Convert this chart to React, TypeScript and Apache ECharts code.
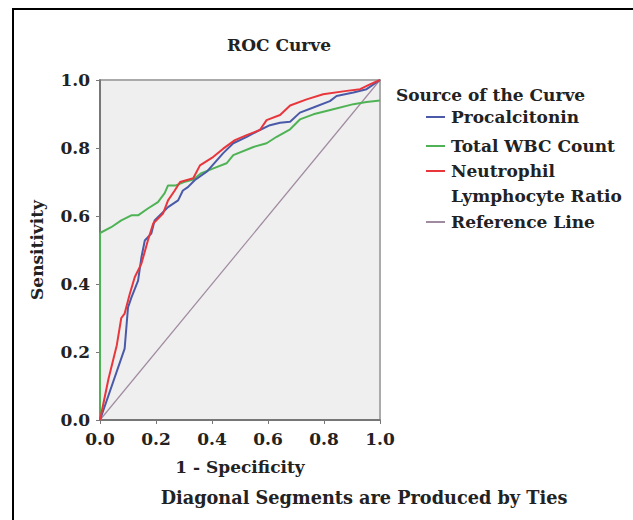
import React, { useEffect, useRef } from "react";
import * as echarts from "echarts";

const FONT = "DejaVu Serif";

const titleText = "ROC Curve";
const xAxisName = "1 - Specificity";
const yAxisName = "Sensitivity";
const footnote = "Diagonal Segments are Produced by Ties";
const legendTitle = "Source of the Curve";

const seriesNames = ["Procalcitonin", "Total WBC Count", "Neutrophil Lymphocyte Ratio", "Reference Line"];
const legendLabels = [["Procalcitonin"], ["Total WBC Count"], ["Neutrophil", "Lymphocyte Ratio"], ["Reference Line"]];
const seriesColors = ["#4a5aa8", "#4fb356", "#e8363c", "#a08aa0"];

const pctX = [0, 0.088, 0.1, 0.112, 0.136, 0.148, 0.16, 0.183, 0.195, 0.243, 0.279, 0.296, 0.314, 0.338, 0.381, 0.44, 0.476, 0.524, 0.571, 0.607, 0.643, 0.679, 0.714, 0.762, 0.821, 0.845, 0.905, 0.952, 1.0];
const pctY = [0, 0.21, 0.331, 0.36, 0.41, 0.479, 0.528, 0.548, 0.587, 0.626, 0.646, 0.675, 0.685, 0.705, 0.73, 0.785, 0.814, 0.833, 0.853, 0.867, 0.874, 0.877, 0.904, 0.919, 0.938, 0.953, 0.963, 0.973, 1.0];

const wbcX = [0, 0, 0.04, 0.076, 0.112, 0.136, 0.171, 0.207, 0.231, 0.243, 0.271, 0.3, 0.333, 0.36, 0.405, 0.452, 0.476, 0.548, 0.595, 0.631, 0.679, 0.714, 0.762, 0.833, 0.905, 0.952, 1.0];
const wbcY = [0, 0.55, 0.567, 0.587, 0.602, 0.602, 0.622, 0.641, 0.667, 0.69, 0.69, 0.7, 0.707, 0.725, 0.74, 0.755, 0.779, 0.803, 0.814, 0.833, 0.855, 0.884, 0.899, 0.914, 0.929, 0.935, 0.94];

const nlrX = [0, 0.03, 0.06, 0.076, 0.088, 0.106, 0.124, 0.148, 0.171, 0.19, 0.225, 0.243, 0.267, 0.286, 0.333, 0.357, 0.405, 0.44, 0.482, 0.524, 0.571, 0.595, 0.643, 0.679, 0.738, 0.797, 0.881, 0.929, 0.964, 1.0];
const nlrY = [0, 0.12, 0.22, 0.3, 0.313, 0.37, 0.42, 0.46, 0.528, 0.578, 0.607, 0.646, 0.675, 0.7, 0.711, 0.749, 0.774, 0.798, 0.823, 0.838, 0.853, 0.882, 0.897, 0.925, 0.943, 0.958, 0.968, 0.973, 0.987, 1.0];

const refX = [0, 1];
const refY = [0, 1];

const zip = (xs: number[], ys: number[]) => xs.map((x, i) => [x, ys[i]]);

export default function App() {
  const ref = useRef<HTMLDivElement>(null);
  useEffect(() => {
    document.body.style.margin = "0";
    const chart = echarts.init(ref.current!, null, { renderer: "svg" });
    const textStyleBase = { fontFamily: FONT, fontWeight: "bold" as const, fill: "#222" };
    const legendY = [117, 146, 171, 222];
    const legendGraphics: any[] = [
      { type: "text", x: 396, y: 95, style: { ...textStyleBase, text: legendTitle, fontSize: 17, textVerticalAlign: "middle" } },
    ];
    legendLabels.forEach((lines, i) => {
      legendGraphics.push({
        type: "line",
        shape: { x1: 426, y1: legendY[i], x2: 445, y2: legendY[i] },
        style: { stroke: seriesColors[i], lineWidth: 2 },
      });
      legendGraphics.push({
        type: "text",
        x: 451,
        y: legendY[i] - 12.5,
        style: { ...textStyleBase, text: lines.join("\n"), fontSize: 17, lineHeight: 25, textVerticalAlign: "top" },
      });
    });

    const axisCommon = {
      type: "value" as const,
      min: 0,
      max: 1,
      interval: 0.2,
      nameLocation: "middle" as const,
      nameTextStyle: { fontFamily: FONT, fontWeight: "bold" as const, fontSize: 17, color: "#222" },
      axisLine: { show: true, lineStyle: { color: "#666", width: 1.5 } },
      axisTick: { show: true, length: 4, lineStyle: { color: "#777" } },
      splitLine: { show: false },
      axisLabel: {
        fontFamily: FONT,
        fontWeight: "bold" as const,
        fontSize: 17,
        color: "#222",
        formatter: (v: number) => v.toFixed(1),
      },
    };

    chart.setOption({
      animation: false,
      backgroundColor: "#fff",
      title: {
        text: titleText,
        left: 274,
        top: 31,
        textAlign: "center",
        textStyle: { fontFamily: FONT, fontWeight: "bold", fontSize: 17, color: "#222" },
      },
      grid: {
        left: 100,
        top: 80,
        width: 280,
        height: 340,
        show: true,
        backgroundColor: "#efefef",
        borderColor: "#aaaaaa",
        borderWidth: 2,
      },
      xAxis: { ...axisCommon, name: xAxisName, nameGap: 38, axisLabel: { ...axisCommon.axisLabel, margin: 10 } },
      yAxis: { ...axisCommon, name: yAxisName, nameGap: 55, axisLabel: { ...axisCommon.axisLabel, margin: 10 } },
      series: [
        { name: seriesNames[3], type: "line", data: zip(refX, refY), showSymbol: false, lineStyle: { color: seriesColors[3], width: 1.2 }, z: 2 },
        { name: seriesNames[1], type: "line", data: zip(wbcX, wbcY), showSymbol: false, lineStyle: { color: seriesColors[1], width: 2 }, z: 3 },
        { name: seriesNames[0], type: "line", data: zip(pctX, pctY), showSymbol: false, lineStyle: { color: seriesColors[0], width: 2 }, z: 4 },
        { name: seriesNames[2], type: "line", data: zip(nlrX, nlrY), showSymbol: false, lineStyle: { color: seriesColors[2], width: 2 }, z: 5 },
      ],
      graphic: [
        { type: "rect", shape: { x: 13, y: 9, width: 660, height: 560 }, style: { fill: "none", stroke: "#000", lineWidth: 2 }, silent: true },
        ...legendGraphics,
        { type: "text", x: 364, y: 497, style: { ...textStyleBase, text: footnote, fontSize: 17.7, textAlign: "center", textVerticalAlign: "middle" } },
      ],
    });
    return () => chart.dispose();
  }, []);
  return <div ref={ref} style={{ width: 633, height: 520 }} />;
}
